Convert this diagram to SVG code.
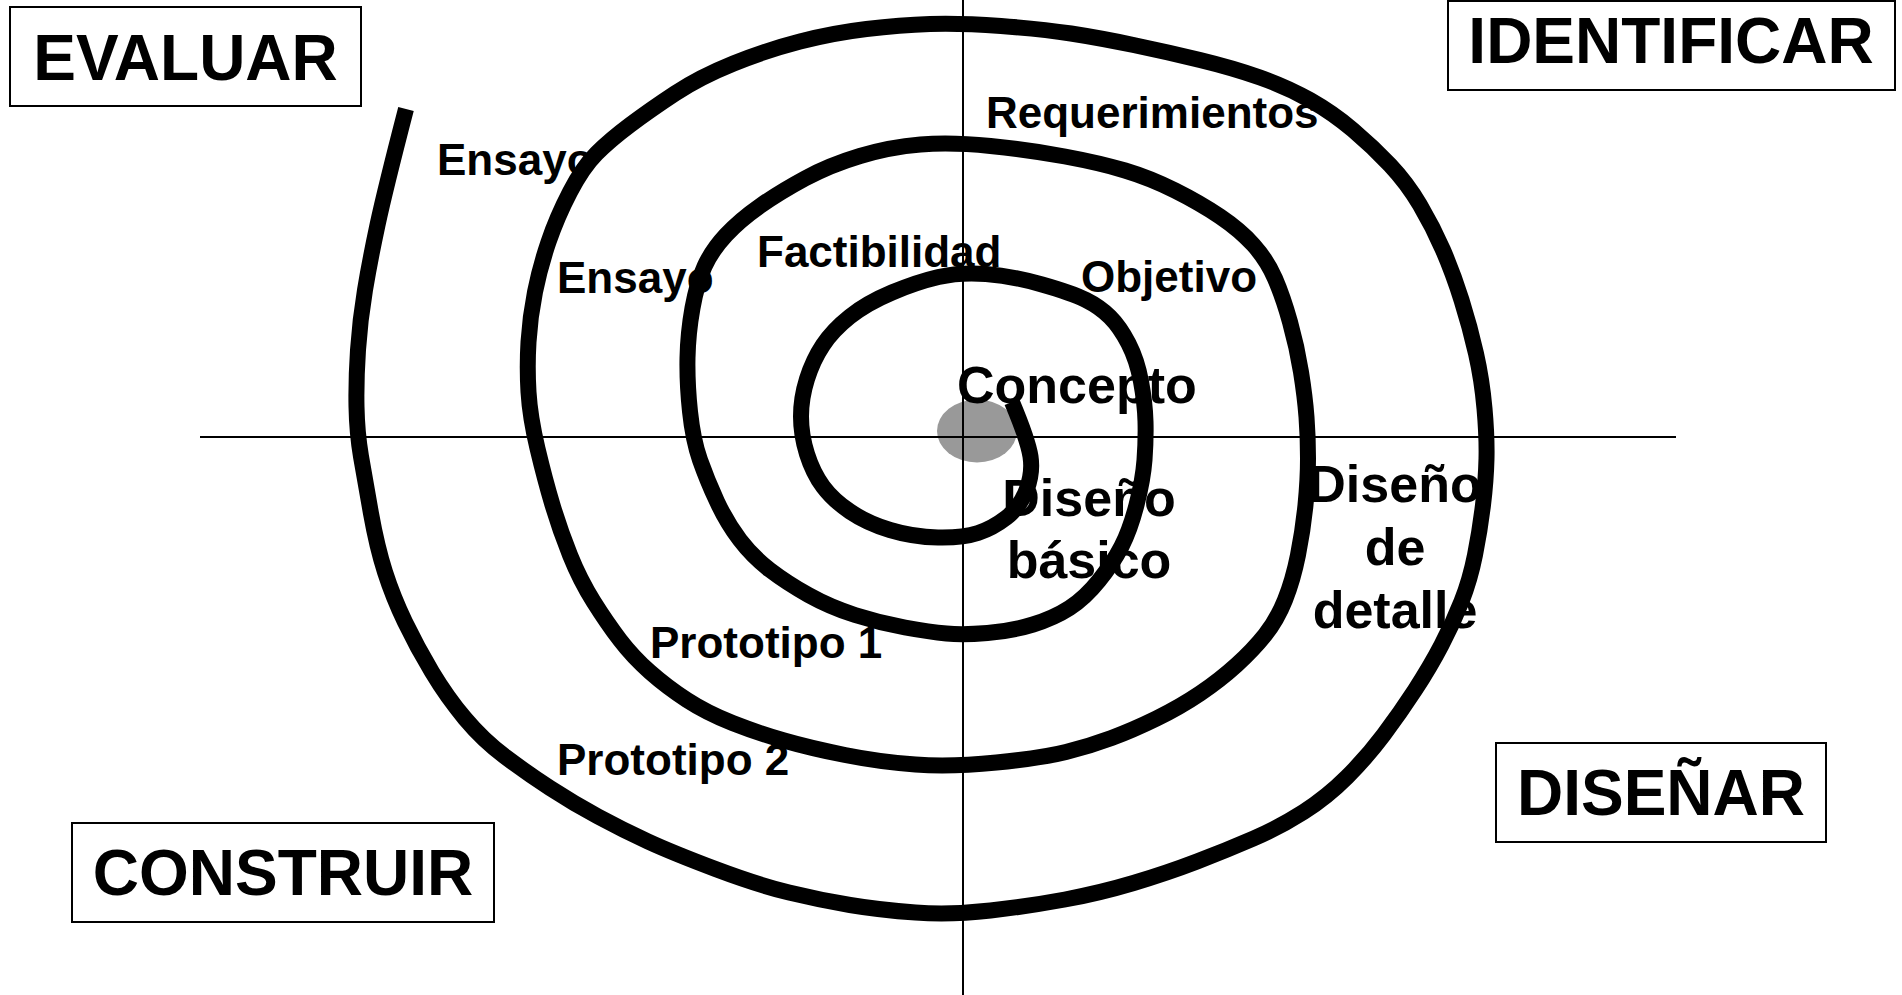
<svg xmlns="http://www.w3.org/2000/svg" width="1902" height="995" viewBox="0 0 1902 995">
<style>
text{font-family:"Liberation Sans",Arial,sans-serif;font-weight:bold;fill:#000}
.title{font-size:64px;text-anchor:middle}
.lbl{font-size:44px}
.big{font-size:52px}
.box{fill:#fff;stroke:#000;stroke-width:2}
.axis{stroke:#000;stroke-width:2;fill:none}
.spiral{fill:none;stroke:#000;stroke-width:16;stroke-linejoin:round;stroke-linecap:butt}
</style>
<rect width="1902" height="995" fill="#fff"/>
<ellipse id="center" cx="977" cy="431" rx="40" ry="31.5" fill="#999"/>
<g id="axes">
<line class="axis" x1="963" y1="0" x2="963" y2="995"/>
<line class="axis" x1="200" y1="437" x2="1676" y2="437"/>
</g>
<g id="connectors">
<path class="spiral" d="M1012,402 Q1028,440 1030.5,456.5 Q1033,473 1026.5,490 Q1020,507 1006.5,517.5 Q993,528 978,533 Q963,538 938,537.5 Q913,537 890,530 Q867,523 850,511.5 Q833,500 823,486.5 Q813,473 807,454 Q801,435 801,416.5 Q801,398 807,379 Q813,360 823,345 Q833,330 850,316.5 Q867,303 892,292.5 Q917,282 938.5,277 Q960,272 986,274 Q1012,276 1042,284.5 Q1072,293 1086,300 Q1100,307 1110,317 Q1120,327 1128.5,343.5 Q1137,360 1141,381.5 Q1145,403 1145.5,421.5 Q1146,440 1144.5,460 Q1143,480 1136.5,505 Q1130,530 1121.5,546.5 Q1113,563 1099,580.5 Q1085,598 1069.5,608 Q1054,618 1033,624.5 Q1012,631 987.5,633 Q963,635 946.5,633.5 Q930,632 905,627.5 Q880,623 855,615 Q830,607 808.5,595 Q787,583 770,570 Q753,557 740,540 Q727,523 717,501.5 Q707,480 700,460 Q693,440 690,411.5 Q687,383 687.5,358 Q688,333 692.5,308 Q697,283 704.5,266.5 Q712,250 726,235 Q740,220 760,206 Q780,192 805,178.5 Q830,165 860,156 Q890,147 920.5,144.5 Q951,142 990.5,146 Q1030,150 1065,156.5 Q1100,163 1125,170.5 Q1150,178 1175,190.5 Q1200,203 1220,216.5 Q1240,230 1253.5,245 Q1267,260 1275,278.5 Q1283,297 1290,322 Q1297,347 1301,372 Q1305,397 1306.5,417 Q1308,437 1308,458.5 Q1308,480 1305.5,505 Q1303,530 1298,555 Q1293,580 1285,600 Q1277,620 1265,635 Q1253,650 1236.5,665 Q1220,680 1200,693.5 Q1180,707 1156.5,718.5 Q1133,730 1111.5,738 Q1090,746 1066,752 Q1042,758 996.5,762.5 Q951,767 915.5,764.5 Q880,762 845,755 Q810,748 784,740.5 Q758,733 732.5,723 Q707,713 687,700 Q667,687 650,672 Q633,657 620,640 Q607,623 593.5,601.5 Q580,580 570,555 Q560,530 552.5,505 Q545,480 537.5,448.5 Q530,417 528.5,392 Q527,367 528.5,342 Q530,317 535,292 Q540,267 548.5,242 Q557,217 570,192 Q583,167 596.5,153.5 Q610,140 630,125 Q650,110 675,93.5 Q700,77 733.5,63.5 Q767,50 800,41.5 Q833,33 866.5,29 Q900,25 930,24 Q960,23 1001,26 Q1042,29 1071,33.5 Q1100,38 1133.5,45 Q1167,52 1200,60 Q1233,68 1260,77.5 Q1287,87 1310,100 Q1333,113 1353,130 Q1373,147 1390,165 Q1407,183 1420,205 Q1433,227 1443,250 Q1453,273 1461.5,300 Q1470,327 1476,353.5 Q1482,380 1484.5,408.5 Q1487,437 1486.5,458.5 Q1486,480 1483,505 Q1480,530 1475,555 Q1470,580 1461.5,601.5 Q1453,623 1441.5,645 Q1430,667 1415,690 Q1400,713 1383.5,735 Q1367,757 1347,777 Q1327,797 1303.5,812 Q1280,827 1253.5,838.5 Q1227,850 1197,861.5 Q1167,873 1133.5,883 Q1100,893 1065,899.5 Q1030,906 990.5,910.5 Q951,915 915.5,912.5 Q880,910 850,905 Q820,900 789,892.5 Q758,885 715.5,869 Q673,853 648,841.5 Q623,830 598,816.5 Q573,803 550,788 Q527,773 505,756.5 Q483,740 465,718.5 Q447,697 432,672 Q417,647 405,622 Q393,597 385,572 Q377,547 371,513.5 Q365,480 361,456.5 Q357,433 356.5,406.5 Q356,380 358,350 Q360,320 365,290 Q370,260 377.5,225 Q385,190 406,109"/>
</g>
<g id="evaluar"><rect class="box" x="10" y="7" width="351" height="99"/><text class="title" x="185.5" y="80">EVALUAR</text></g>
<g id="identificar"><rect class="box" x="1448" y="1" width="447" height="89"/><text class="title" x="1671" y="63">IDENTIFICAR</text></g>
<g id="construir"><rect class="box" x="72" y="823" width="422" height="99"/><text class="title" x="283" y="895">CONSTRUIR</text></g>
<g id="disenar"><rect class="box" x="1496" y="743" width="330" height="99"/><text class="title" x="1661" y="815">DISEÑAR</text></g>
<g id="labels">
<text class="lbl" x="986" y="128">Requerimientos</text>
<text class="lbl" x="437" y="175">Ensayo</text>
<text class="lbl" x="757" y="267">Factibilidad</text>
<text class="lbl" x="557" y="293">Ensayo</text>
<text class="lbl" x="1081" y="292">Objetivo</text>
<text class="big" x="957" y="403">Concepto</text>
<text class="big" x="1089" y="516" text-anchor="middle">Diseño</text>
<text class="big" x="1089" y="578" text-anchor="middle">básico</text>
<text class="big" x="1395" y="502" text-anchor="middle">Diseño</text>
<text class="big" x="1395" y="565" text-anchor="middle">de</text>
<text class="big" x="1395" y="628" text-anchor="middle">detalle</text>
<text class="lbl" x="650" y="658">Prototipo 1</text>
<text class="lbl" x="557" y="775">Prototipo 2</text>
</g>
</svg>
